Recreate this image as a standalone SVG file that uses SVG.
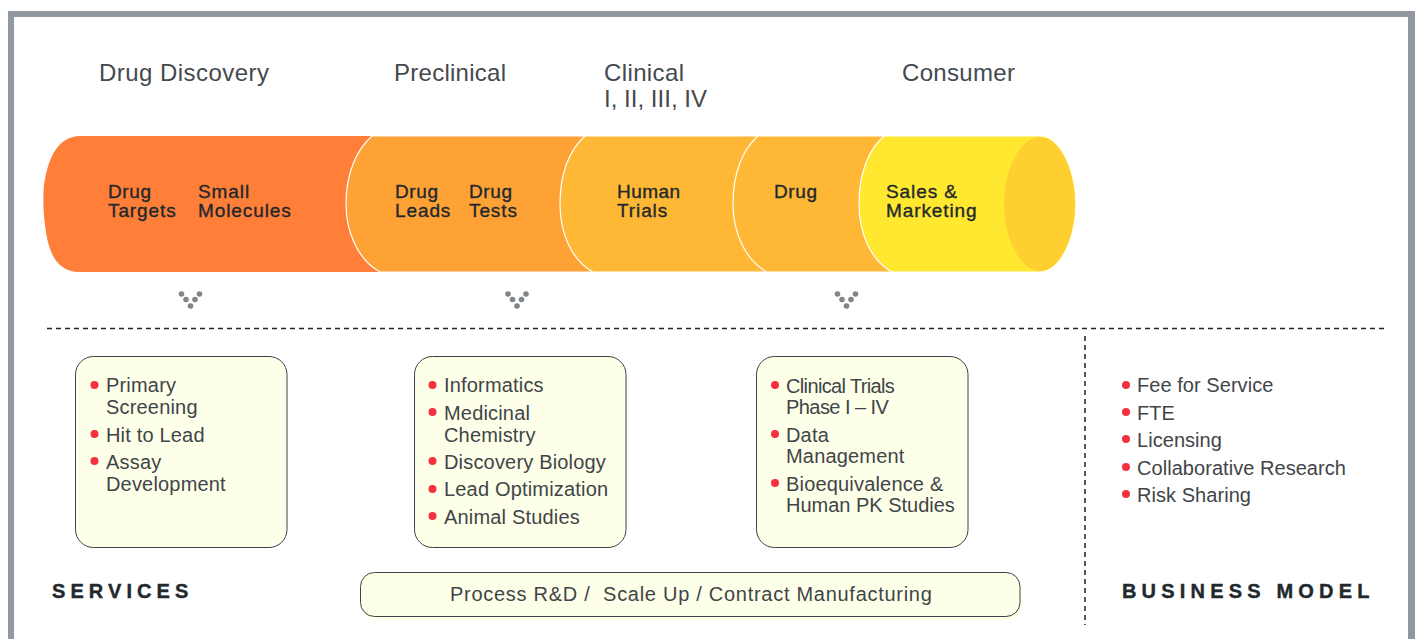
<svg xmlns="http://www.w3.org/2000/svg" width="1418" height="639" viewBox="0 0 1418 639">
<style>
text{font-family:"Liberation Sans",Arial,sans-serif}
.h{font-size:24px;fill:#44494d}
.l{font-size:19px;fill:#22282c;font-weight:400;stroke:#22282c;stroke-width:.35px;letter-spacing:.9px}
.t{font-size:20px;fill:#3f4548;letter-spacing:.18px}
.m{font-size:20px;fill:#3f4548;letter-spacing:.05px}
.c{stroke:#fff;stroke-width:1.2}
.b{fill:#feffe8;stroke:#3c4444;stroke-width:1}
.r{fill:#f5303f}
.d{fill:#7e868c}
.k{font-size:20px;font-weight:700;fill:#22282c;stroke:#22282c;stroke-width:.4px;letter-spacing:4.6px}
.x{fill:none;stroke:#222;stroke-width:1.5;stroke-dasharray:5 4}
</style>
<path id="frame" d="M8 639V11H1415V639H1408V17H14V639Z" fill="#9298a0"/>
<g id="stage-headings">
<text class="h" x="99" y="81" textLength="170">Drug Discovery</text>
<text class="h" x="394" y="81" textLength="112">Preclinical</text>
<text class="h" x="604" y="81" textLength="80">Clinical</text>
<text class="h" x="604" y="107" textLength="103">I, II, III, IV</text>
<text class="h" x="902" y="81" textLength="113">Consumer</text>
</g>
<g id="pipeline">
<g id="seg-discovery"><path d="M80 136H400V272H80C55 272 48 250 45 225C43 210 43 195 44 185C48 155 60 136 80 136Z" fill="#ff7f38"/>
<text class="l" x="108" y="198" textLength="44">Drug</text><text class="l" x="108" y="217">Targets</text>
<text class="l" x="198" y="198">Small</text><text class="l" x="198" y="217">Molecules</text></g>
<g id="seg-preclinical"><path class="c" d="M372 136H620V272H380C358 260 346 232 346 204C346 174 356 150 372 136Z" fill="#ffa236"/>
<text class="l" x="395" y="198" textLength="44">Drug</text><text class="l" x="395" y="217">Leads</text>
<text class="l" x="469" y="198" textLength="44">Drug</text><text class="l" x="469" y="217">Tests</text></g>
<g id="seg-clinical"><path class="c" d="M585 136H790V272H593C571 260 560 232 560 204C560 174 569 150 585 136Z" fill="#ffb835"/>
<text class="l" x="617" y="198" textLength="64">Human</text><text class="l" x="617" y="217">Trials</text></g>
<g id="seg-drug"><path class="c" d="M758 136H920V272H767C745 260 733 232 733 204C733 174 742 150 758 136Z" fill="#ffb835"/>
<text class="l" x="774" y="198" textLength="44">Drug</text></g>
<g id="seg-consumer"><path class="c" d="M884 136H1040C1060 136 1076 170 1076 204C1076 238 1060 272 1040 272H892C870 260 859 232 859 204C859 174 868 150 884 136Z" fill="#ffe82f"/>
<path d="M1040 137C1060 137 1075 170 1075 204C1075 238 1060 271 1040 271C1020 271 1004 238 1004 204C1004 170 1020 137 1040 137Z" fill="#ffce30"/>
<text class="l" x="886" y="198">Sales &amp;</text><text class="l" x="886" y="217">Marketing</text></g>
</g>
<g id="connectors">
<line class="x" x1="47" y1="328.500" x2="1385" y2="328.500"/>
<line class="x" x1="1085" y1="336" x2="1085" y2="625"/>
<g id="dots1" class="d"><circle cx="181.500" cy="294" r="2.800"/><circle cx="199.500" cy="294" r="2.800"/><circle cx="186" cy="299.500" r="2.800"/><circle cx="195" cy="299.500" r="2.800"/><circle cx="190.500" cy="306" r="2.800"/></g>
<g id="dots2" class="d"><circle cx="508" cy="294" r="2.800"/><circle cx="526" cy="294" r="2.800"/><circle cx="512.500" cy="299.500" r="2.800"/><circle cx="521.500" cy="299.500" r="2.800"/><circle cx="517" cy="306" r="2.800"/></g>
<g id="dots3" class="d"><circle cx="837.500" cy="294" r="2.800"/><circle cx="855.500" cy="294" r="2.800"/><circle cx="842" cy="299.500" r="2.800"/><circle cx="851" cy="299.500" r="2.800"/><circle cx="846.500" cy="306" r="2.800"/></g>
</g>
<g id="box-discovery"><rect class="b" x="75.500" y="356.500" width="211.500" height="191" rx="18"/>
<circle class="r" cx="94.500" cy="385" r="4"/><circle class="r" cx="94.500" cy="434" r="4"/><circle class="r" cx="94.500" cy="461" r="4"/>
<text class="t" x="106" y="392">Primary</text><text class="t" x="106" y="414">Screening</text><text class="t" x="106" y="442">Hit to Lead</text><text class="t" x="106" y="469">Assay</text><text class="t" x="106" y="491">Development</text></g>
<g id="box-preclinical"><rect class="b" x="414.500" y="356.500" width="211.500" height="191" rx="18"/>
<circle class="r" cx="432.500" cy="385" r="4"/><circle class="r" cx="432.500" cy="412" r="4"/><circle class="r" cx="432.500" cy="461" r="4"/><circle class="r" cx="432.500" cy="489" r="4"/><circle class="r" cx="432.500" cy="516" r="4"/>
<text class="t" x="444" y="392">Informatics</text><text class="t" x="444" y="420">Medicinal</text><text class="t" x="444" y="442">Chemistry</text><text class="t" x="444" y="469">Discovery Biology</text><text class="t" x="444" y="496">Lead Optimization</text><text class="t" x="444" y="524">Animal Studies</text></g>
<g id="box-clinical"><rect class="b" x="756.500" y="356.500" width="211.500" height="191" rx="18"/>
<circle class="r" cx="775" cy="385" r="4"/><circle class="r" cx="775" cy="434" r="4"/><circle class="r" cx="775" cy="483" r="4"/>
<text class="t" x="786" y="393" textLength="109">Clinical Trials</text><text class="t" x="786" y="414" textLength="103">Phase I – IV</text><text class="t" x="786" y="442">Data</text><text class="t" x="786" y="463">Management</text><text class="t" x="786" y="491">Bioequivalence &amp;</text><text class="t" x="786" y="512" textLength="169">Human PK Studies</text></g>
<g id="box-process"><rect x="362" y="576" width="660" height="44" rx="14" fill="#fdffe6"/><rect class="b" x="360.500" y="572.500" width="659.500" height="44" rx="14"/>
<text class="t" x="450" y="601" xml:space="preserve" textLength="482">Process R&amp;D /  Scale Up / Contract Manufacturing</text></g>
<g id="business-model">
<circle class="r" cx="1126" cy="385" r="4"/><circle class="r" cx="1126" cy="412" r="4"/><circle class="r" cx="1126" cy="439" r="4"/><circle class="r" cx="1126" cy="467" r="4"/><circle class="r" cx="1126" cy="494" r="4"/>
<text class="m" x="1137" y="392">Fee for Service</text><text class="m" x="1137" y="420">FTE</text><text class="m" x="1137" y="447">Licensing</text><text class="m" x="1137" y="475">Collaborative Research</text><text class="m" x="1137" y="502">Risk Sharing</text>
<text class="k" x="1122" y="598" textLength="252">BUSINESS MODEL</text></g>
<text id="services" class="k" x="52" y="598" textLength="141">SERVICES</text>
</svg>
